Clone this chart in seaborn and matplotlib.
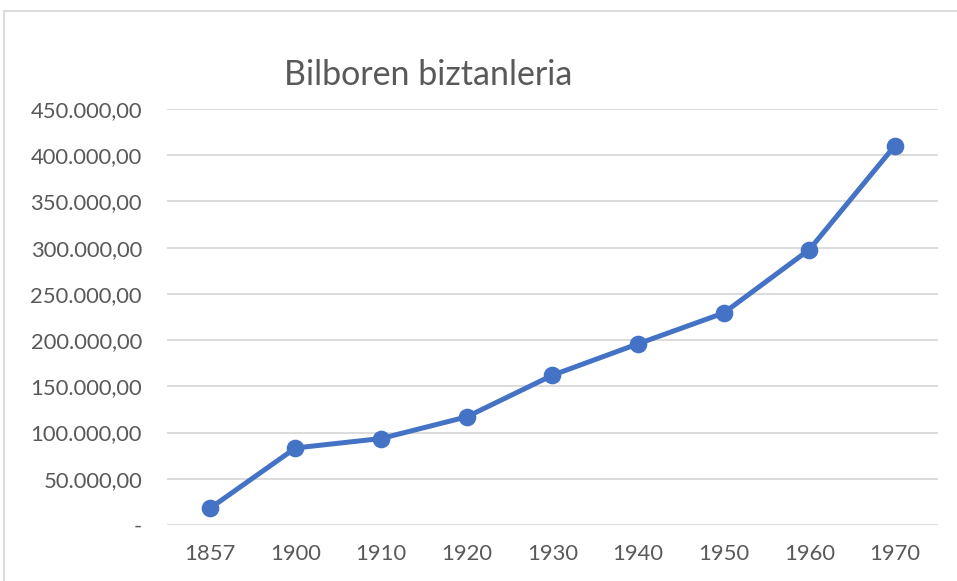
import matplotlib
matplotlib.use("Agg")
import matplotlib.pyplot as plt
import seaborn as sns
import pandas as pd
from matplotlib.patches import Rectangle
from matplotlib.ticker import FuncFormatter

years = ["1857", "1900", "1910", "1920", "1930", "1940", "1950", "1960", "1970"]
population = [17923, 83306, 93536, 117000, 161987, 196000, 229334, 297942, 410490]

df = pd.DataFrame({"urtea": years, "biztanleak": population})

sns.set_theme(style="white")
plt.rcParams['font.family'] = ['Lato', 'DejaVu Sans']

fig = plt.figure(figsize=(9.57, 5.81), dpi=100)
ax = fig.add_axes([0.1745, 0.0964, 0.8055, 0.716])

sns.pointplot(data=df, x="urtea", y="biztanleak", color="#4472C4",
              linewidth=3.6, markersize=10, ax=ax)

ax.set_ylim(0, 450000)
ax.set_xlim(-0.5, len(years) - 0.5)
ax.set_yticks(range(0, 450001, 50000))


def fmt(v, pos):
    if v == 0:
        return "-"
    return f"{v:,.2f}".replace(",", "X").replace(".", ",").replace("X", ".")


ax.yaxis.set_major_formatter(FuncFormatter(fmt))
ax.grid(axis="y", color="#d9d9d9", linewidth=1.3)
ax.set_axisbelow(True)
for s in ax.spines.values():
    s.set_visible(False)
ax.tick_params(axis="both", length=0, labelsize=15.8, labelcolor="#595959")
ax.tick_params(axis="y", pad=18)
ax.tick_params(axis="x", pad=14)
ax.set_xlabel("")
ax.set_ylabel("")

fig.text(0.447, 0.871, "Bilboren biztanleria", ha="center", va="center",
         fontsize=24.5, color="#595959")

fig.patches.append(Rectangle((4 / 957, -0.1), 1.2, 1 - 11 / 581 + 0.1,
                             transform=fig.transFigure, fill=False,
                             edgecolor="#d9d9d9", linewidth=1.3))

fig.savefig("out.png", dpi=100)
